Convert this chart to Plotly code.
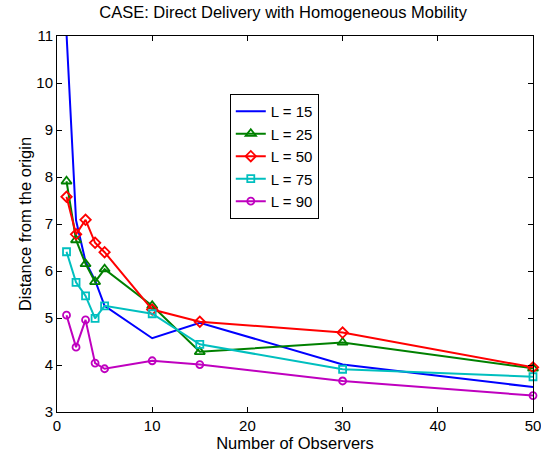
import plotly.graph_objects as go

observers = [1, 2, 3, 4, 5, 10, 15, 30, 50]
L15 = [11.05, 7.08, 6.2, 5.8, 5.26, 4.57, 4.9, 4.01, 3.53]
L25 = [7.91, 6.66, 6.15, 5.77, 6.04, 5.26, 4.28, 4.48, 3.93]
L50 = [7.58, 6.78, 7.09, 6.60, 6.40, 5.18, 4.92, 4.69, 3.95]
L75 = [6.41, 5.76, 5.47, 4.99, 5.26, 5.09, 4.44, 3.91, 3.75]
L90 = [5.06, 4.38, 4.96, 4.04, 3.92, 4.09, 4.01, 3.66, 3.35]

series = [
    ("L = 15", L15, "#0000ff", None, 0),
    ("L = 25", L25, "#008000", "triangle-up-open", 9),
    ("L = 50", L50, "#ff0000", "diamond-open", 8),
    ("L = 75", L75, "#00bfbf", "square-open", 7),
    ("L = 90", L90, "#bf00bf", "circle-open", 7),
]

fig = go.Figure()
for name, vals, color, sym, msize in series:
    if sym is None:
        fig.add_trace(go.Scatter(x=observers, y=vals, name=name, mode="lines",
                                 line=dict(color=color, width=2)))
    else:
        fig.add_trace(go.Scatter(x=observers, y=vals, name=name, mode="lines+markers",
                                 line=dict(color=color, width=2),
                                 marker=dict(symbol=sym, size=msize, color=color,
                                             line=dict(color=color, width=1.8)),
                                 cliponaxis=False))

FONT = "Liberation Sans, Arial, sans-serif"
axis_common = dict(showgrid=False, zeroline=False, showline=True, linecolor="black",
                   linewidth=1, mirror="ticks", ticks="inside", ticklen=5,
                   tickcolor="black", automargin=False, ticklabeloverflow="allow",
                   tickfont=dict(family=FONT, size=15, color="black"))

fig.update_layout(
    width=541, height=454,
    margin=dict(l=57, r=8, t=36, b=42, autoexpand=False),
    paper_bgcolor="white", plot_bgcolor="white",
    font=dict(family=FONT, size=15, color="black"),
    title=dict(text="CASE: Direct Delivery with Homogeneous Mobility", x=0.475, xref="paper",
               y=0.972, yref="container", yanchor="middle", xanchor="center",
               font=dict(family=FONT, size=16.5, color="black")),
    xaxis=dict(range=[0, 50], tickvals=[0, 10, 20, 30, 40, 50],
               title=dict(text="Number of Observers", standoff=0,
                          font=dict(family=FONT, size=16.5, color="black")),
               **axis_common),
    yaxis=dict(range=[3, 11], tickvals=[3, 4, 5, 6, 7, 8, 9, 10, 11],
               title=dict(text="Distance from the origin", standoff=0,
                          font=dict(family=FONT, size=16.5, color="black")),
               **axis_common),
    legend=dict(x=0.363, y=0.846, xanchor="left", yanchor="top",
                bordercolor="black", borderwidth=1, bgcolor="white",
                font=dict(family=FONT, size=15), tracegroupgap=0, itemwidth=30),
    showlegend=True,
)

fig.write_html("out.html", config={"displayModeBar": False},
               post_script="document.body.style.margin='0';document.body.style.overflow='hidden';")
